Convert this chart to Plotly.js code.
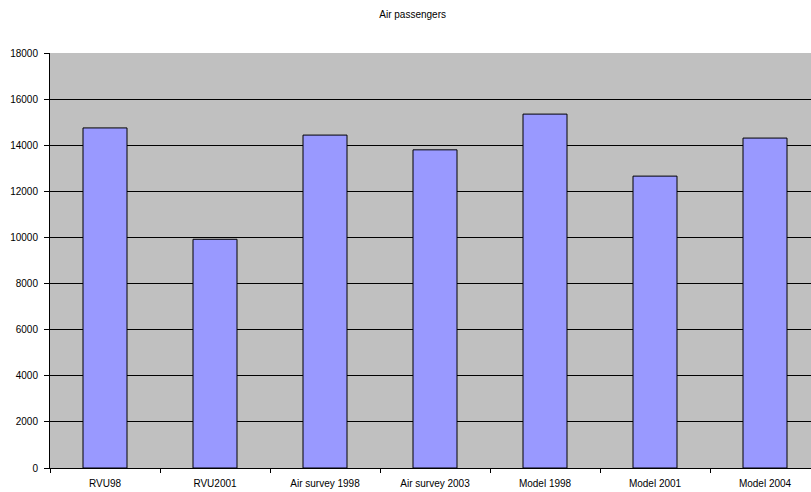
<!DOCTYPE html>
<html>
<head>
<meta charset="utf-8">
<script src="https://cdn.plot.ly/plotly-3.0.1.min.js"></script>
<style>
html, body { margin: 0; padding: 0; overflow: hidden; background: #fff; }
#chart { width: 820px; height: 492px; }
</style>
</head>
<body>
<div id="chart"></div>
<script>
const categories = ["RVU98", "RVU2001", "Air survey 1998", "Air survey 2003", "Model 1998", "Model 2001", "Model 2004"];
const passengers = [14750, 9920, 14440, 13800, 15350, 12660, 14310];
const yTickVals = [0, 2000, 4000, 6000, 8000, 10000, 12000, 14000, 16000, 18000];

const font = { family: "Liberation Sans, Arial, sans-serif", size: 10, color: "#000" };

Plotly.newPlot("chart", [{
  type: "bar",
  x: categories,
  y: passengers,
  width: 0.4,
  marker: { color: "#9999ff", line: { color: "#000", width: 1 } },
  hoverinfo: "none"
}], {
  width: 820,
  height: 492,
  margin: { l: 50, r: 0, t: 53, b: 24 },
  paper_bgcolor: "#ffffff",
  plot_bgcolor: "#c0c0c0",
  font: font,
  showlegend: false,
  title: { text: "Air passengers", font: font, x: 0.471, xref: "paper", xanchor: "center", y: 0.97, yref: "container", yanchor: "middle" },
  xaxis: {
    type: "category",
    showline: true, linecolor: "#000", linewidth: 1,
    ticks: "outside", tickson: "boundaries", ticklen: 4, tickcolor: "#000",
    ticklabelstandoff: 6,
    showgrid: false, zeroline: false,
    tickfont: font
  },
  yaxis: {
    range: [0, 18000],
    tickvals: yTickVals,
    tickformat: "d",
    showline: true, linecolor: "#000", linewidth: 1,
    ticks: "outside", ticklen: 5, tickcolor: "#000",
    ticklabelstandoff: 4,
    showgrid: true, gridcolor: "#000", gridwidth: 1,
    zeroline: false,
    tickfont: font
  }
}, { staticPlot: true });
</script>
</body>
</html>
